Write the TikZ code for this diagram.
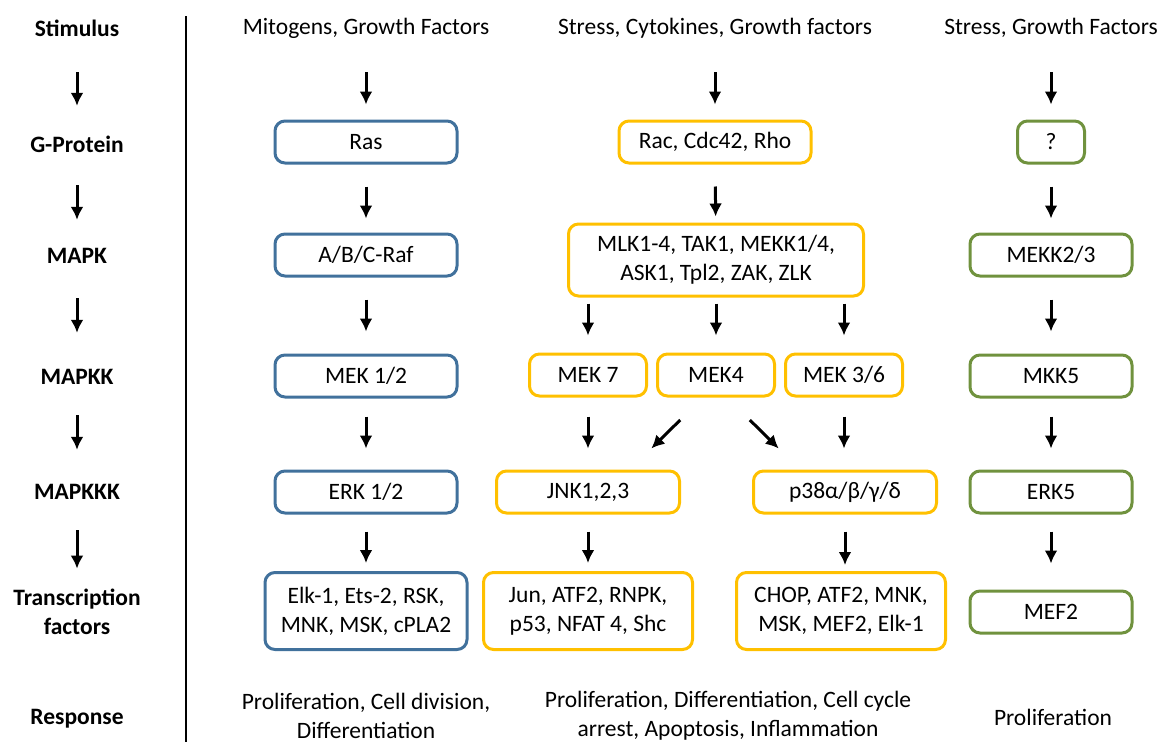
\documentclass[tikz,border=0pt]{standalone}
\usepackage{fontspec}
\setmainfont{Carlito}
\usetikzlibrary{arrows.meta}

\definecolor{mapkblue}{HTML}{41719C}
\definecolor{mapkyellow}{HTML}{FFC000}
\definecolor{mapkgreen}{HTML}{70923E}

\tikzset{
	box/.style={draw, line width=3pt, rounded corners=10pt, minimum height=42pt, align=center, inner sep=4pt},
	bluebox/.style={box, draw=mapkblue},
	yellowbox/.style={box, draw=mapkyellow},
	greenbox/.style={box, draw=mapkgreen},
	lbl/.style={font=\fontsize{23.5}{29}\selectfont\bfseries, align=center, minimum height=42pt},
	txt/.style={align=center, minimum height=42pt},
	flow/.style={->, line width=3pt},
	trim/.style 2 args={shorten <=#1pt, shorten >=#2pt}
}

\begin{document}
\begin{tikzpicture}[x=1pt, y=-1pt, >={Latex[length=13pt,width=13pt]}, font=\fontsize{23.5}{29}\selectfont]
	\useasboundingbox (0,0) rectangle (1167,742);
	\draw[line width=2.2pt] (186,16) -- (186,742);

	% row labels
	\node[lbl] (stim) at (77,28) {Stimulus};
	\node[lbl] (gprot) at (77,144) {G-Protein};
	\node[lbl] (mapk) at (77,256) {MAPK};
	\node[lbl] (mapkk) at (77,377) {MAPKK};
	\node[lbl] (mapkkk) at (77,492) {MAPKKK};
	\node[lbl] (tf) at (77,612) {Transcription\\factors};
	\node[lbl] (resp) at (77,719) {Response};
	\draw[flow, trim={23}{17}] (stim) -- (gprot);
	\draw[flow, trim={20}{15}] (gprot) -- (mapk);
	\draw[flow, trim={21}{23}] (mapk) -- (mapkk);
	\draw[flow, trim={17}{21}] (mapkk) -- (mapkkk);
	\draw[flow, trim={17}{17}] (mapkkk) -- (tf);

	% ERK pathway
	\node[txt] (stim1) at (366,28) {Mitogens, Growth Factors};
	\node[bluebox, minimum width=182pt] (ras) at (366,142) {Ras};
	\node[bluebox, minimum width=182pt] (raf) at (366,255) {A/B/C-Raf};
	\node[bluebox, minimum width=182pt] (mek12) at (366,376) {MEK 1/2};
	\node[bluebox, minimum width=182pt] (erk12) at (366,492) {ERK 1/2};
	\node[bluebox, minimum width=202pt, minimum height=77pt] (elk) at (366,611) {Elk-1, Ets-2, RSK,\\MNK, MSK, cPLA2};
	\node[txt] (resp1) at (366,716) {Proliferation, Cell division,\\Differentiation};
	\draw[flow, trim={23}{15}] (stim1) -- (ras);
	\draw[flow, trim={22}{14}] (ras) -- (raf);
	\draw[flow, trim={22}{22}] (raf) -- (mek12);
	\draw[flow, trim={18}{21}] (mek12) -- (erk12);
	\draw[flow, trim={17}{8}] (erk12) -- (elk);

	% JNK and p38 pathways
	\node[txt] (stim2) at (715,28) {Stress, Cytokines, Growth factors};
	\node[yellowbox, minimum width=192pt] (rac) at (715,142) {Rac, Cdc42, Rho};
	\node[yellowbox, minimum width=295pt, minimum height=72pt] (mlk) at (716,260) {MLK1-4, TAK1, MEKK1/4,\\ASK1, Tpl2, ZAK, ZLK};
	\node[yellowbox, minimum width=117pt] (mek7) at (588,375) {MEK 7};
	\node[yellowbox, minimum width=117pt] (mek4) at (716,375) {MEK4};
	\node[yellowbox, minimum width=117pt] (mek36) at (844,375) {MEK 3/6};
	\node[yellowbox, minimum width=183pt] (jnk) at (588,492) {JNK1,2,3};
	\node[yellowbox, minimum width=183pt] (p38) at (845,492) {p38α/β/γ/δ};
	\node[yellowbox, minimum width=209pt, minimum height=77pt] (jun) at (588,611) {Jun, ATF2, RNPK,\\p53, NFAT 4, Shc};
	\node[yellowbox, minimum width=209pt, minimum height=77pt] (chop) at (841,611) {CHOP, ATF2, MNK,\\MSK, MEF2, Elk-1};
	\node[txt] (resp2) at (728,716) {Proliferation, Differentiation, Cell cycle\\arrest, Apoptosis, Inflammation};
	\draw[flow, trim={23}{15}] (stim2) -- (rac);
	\draw[flow, trim={22}{6}] (rac) -- (mlk);
	\draw[flow, trim={6}{17}] (mlk.south -| mek7) -- (mek7);
	\draw[flow, trim={6}{17}] (mlk.south -| mek4) -- (mek4);
	\draw[flow, trim={6}{17}] (mlk.south -| mek36) -- (mek36);
	\draw[flow, trim={19}{21}] (mek7) -- (jnk);
	\draw[flow, trim={32}{30}] ([xshift=-13pt]mek4.south) -- ([xshift=-51pt]jnk.north east);
	\draw[flow, trim={32}{30}] ([xshift=11pt]mek4.south) -- ([xshift=48pt]p38.north west);
	\draw[flow, trim={19}{21}] (mek36) -- (mek36 |- p38.north);
	\draw[flow, trim={17}{8}] (jnk) -- (jun);
	\draw[flow, trim={17}{46}] (p38) -- (p38 |- chop);

	% ERK5 pathway
	\node[txt] (stim3) at (1051,28) {Stress, Growth Factors};
	\node[greenbox, minimum width=67pt] (qq) at (1051,142) {?};
	\node[greenbox, minimum width=162pt] (mekk23) at (1051,255) {MEKK2/3};
	\node[greenbox, minimum width=162pt] (mkk5) at (1051,376) {MKK5};
	\node[greenbox, minimum width=162pt] (erk5) at (1051,492) {ERK5};
	\node[greenbox, minimum width=162pt] (mef2) at (1051,612) {MEF2};
	\node[txt] (resp3) at (1053,717) {Proliferation};
	\draw[flow, trim={23}{15}] (stim3) -- (qq);
	\draw[flow, trim={22}{14}] (qq) -- (mekk23);
	\draw[flow, trim={22}{22}] (mekk23) -- (mkk5);
	\draw[flow, trim={18}{21}] (mkk5) -- (erk5);
	\draw[flow, trim={17}{26}] (erk5) -- (mef2);
\end{tikzpicture}
\end{document}
